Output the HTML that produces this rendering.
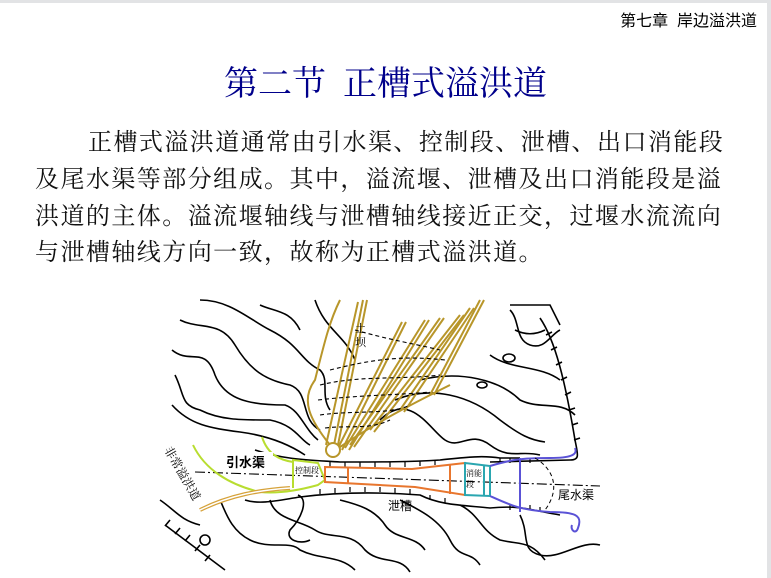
<!DOCTYPE html>
<html><head><meta charset="utf-8"><style>
body{margin:0;width:771px;height:578px;overflow:hidden;background:#fff;position:relative;font-family:"Liberation Serif","Noto Serif CJK SC",serif;}
.top{position:absolute;left:0;top:0;width:771px;height:3px;background:#e2e3e5}
.rb{position:absolute;right:0;top:0;width:4px;height:578px;background:#e2e3e5}
.hdr{position:absolute;right:14px;top:7px;font-size:16px;font-family:"Liberation Sans","Noto Sans CJK SC",sans-serif;color:#000}
.ttl{position:absolute;left:0;width:771px;top:56px;text-align:center;font-size:34px;color:#00008b;}
.p{position:absolute;left:35px;font-size:24px;letter-spacing:1.45px;white-space:nowrap;color:#111;line-height:30px}
svg{position:absolute;left:0;top:0}
</style></head><body>
<div class="top"></div><div class="rb"></div>
<div class="hdr">第七章&nbsp; 岸边溢洪道</div>
<div class="ttl">第二节&nbsp; 正槽式溢洪道</div>
<div class="p" style="left:88px;top:128px">正槽式溢洪道通常由引水渠、控制段、泄槽、出口消能段</div>
<div class="p" style="top:165px">及尾水渠等部分组成。其中，溢流堰、泄槽及出口消能段是溢</div>
<div class="p" style="top:202px">洪道的主体。溢流堰轴线与泄槽轴线接近正交，过堰水流流向</div>
<div class="p" style="top:238px">与泄槽轴线方向一致，故称为正槽式溢洪道。</div>
<svg width="771" height="578" viewBox="0 0 771 578" fill="none" stroke="#000" stroke-width="1.6">
<path d="M200 300 C230 300 250 320 270 330 C300 345 300 360 320 370 C330 380 320 395 330 410"/>
<path d="M180 320 C200 330 220 320 235 345 C250 370 265 380 290 385 C310 392 300 420 320 430"/>
<path d="M172 350 C190 365 205 345 215 375 C225 400 250 405 285 405 C300 410 305 430 318 440"/>
<path d="M175 375 C185 395 180 405 200 410 C220 420 240 420 270 420 C295 425 300 440 310 445"/>
<path d="M172 405 C190 425 210 428 240 432 C270 436 290 445 305 455"/>
<path d="M260 305 C275 312 290 310 300 330"/>
<path d="M315 300 C325 330 345 335 355 360"/>
<path d="M380 420 C410 390 430 430 445 440 C460 450 470 430 490 445 C510 460 520 450 540 455"/>
<path d="M395 400 C430 385 470 395 500 420 C520 435 530 440 545 442"/>
<path d="M420 380 C460 370 500 380 520 400 C540 410 560 400 575 415"/>
<path d="M490 355 C510 370 540 365 560 380"/>
<path d="M510 310 C520 320 515 340 530 345 C545 350 550 335 560 330"/>
<path d="M515 330 C525 335 535 335 545 330"/>
<ellipse cx="509" cy="358" rx="6" ry="4"/>
<ellipse cx="482" cy="385" rx="5" ry="3"/>
<path d="M510 305 L550 305 L560 325"/>
<path d="M540 318 C555 340 565 380 575 440 C578 455 580 460 570 460 L490 462"/>
<path d="M546 335 l6 -3 M551 350 l6 -3 M556 365 l6 -3 M561 380 l6 -3 M565 395 l6 -3 M569 410 l6 -2 M572 425 l6 -2 M574 440 l6 -2" />
<path d="M255 450 C285 460 310 460 340 462 C380 462 410 462 440 460 C460 458 480 455 500 458 L520 458"/>
<path d="M245 500 C260 505 280 500 300 497 C340 492 380 492 420 495 C440 505 460 505 490 508 C520 505 530 510 560 515"/>
<path d="M220 500 C225 510 230 530 250 540 C270 550 290 540 300 550 C320 560 340 555 355 570"/>
<path d="M270 500 C275 520 300 520 315 530 C330 540 350 530 365 550 C380 565 400 555 410 572"/>
<path d="M340 500 C360 505 375 510 385 525 C395 540 415 535 425 550"/>
<path d="M400 500 C420 510 440 520 450 540 C460 560 470 550 480 565"/>
<path d="M460 505 C480 515 480 530 500 540 C520 545 530 540 545 560"/>
<path d="M520 515 C530 535 520 550 540 555 C560 560 580 540 600 545"/>
<path d="M298 495 C310 500 300 520 290 530 C285 540 300 545 310 540"/>
<path d="M165 525 L225 570 M160 500 C175 510 180 520 200 525"/>
<path d="M170 520 l-5 6 M180 528 l-5 6 M190 535 l-5 6 M200 545 l-5 6 M210 555 l-5 6"/>
<circle cx="205" cy="540" r="5"/>
<g stroke-width="1.2">
<path d="M330 462 v5 M345 462 v5 M360 462 v5 M375 462 v5 M390 462 v5 M405 462 v5 M420 461 v5 M435 460 v5 M500 458 v5 M510 458 v5 M520 458 v5 M530 458 v5"/>
<path d="M320 494 v-5 M335 493 v-5 M350 492 v-5 M365 492 v-5 M380 492 v-5 M395 493 v-5 M410 494 v-5 M430 500 v-5 M445 503 v-5 M510 510 v-5 M520 510 v-5 M530 510 v-5 M540 512 v-5"/>
</g>
<path d="M195 472 L600 486" stroke-width="1.1" stroke-dasharray="10 3 2 3"/>
<path d="M193 445 C205 470 230 485 260 492 C280 494 300 490 318 485 L325 480 L318 463 L293 460 L293 488" stroke="#b8dd30" stroke-width="2"/>
<path d="M262 437 C268 455 280 460 293 462" stroke="#b8dd30" stroke-width="2"/>
<path d="M200 510 C230 495 260 490 290 488" stroke="#d6a23a" stroke-width="4"/>
<path d="M200 510 C230 495 260 490 290 488" stroke="#fff" stroke-width="1.5"/>
<g stroke="#e8762e" stroke-width="2">
<path d="M325 467 L412 469 L465 463 L465 495 L415 487 L325 482 Z"/>
<path d="M348 468 V483 M450 465 V494"/>
</g>
<path d="M465 463 L490 466 L490 496 L465 495 Z M484 466 V496" stroke="#2aa6b0" stroke-width="2"/>
<g stroke="#5a52d6" stroke-width="2">
<path d="M490 466 C510 460 520 458 550 458 C570 458 578 455 575 448"/>
<path d="M490 496 C510 505 520 510 550 512 C575 512 583 515 578 528 C576 535 570 530 572 525"/>
<path d="M520 458 V512"/>
</g>
<path d="M535 458 C555 470 560 490 545 510" stroke-dasharray="4 3" stroke-width="1"/>
<g stroke="#b8962a" stroke-width="2">
<path d="M333 450 L363 300 M337 450 L367 300"/>
<path d="M326 445 L358 302"/>
<path d="M338 448 L402 322 M342 450 L406 322"/>
<path d="M345 448 L425 320 M349 450 L429 320"/>
<path d="M350 445 L440 318 M354 447 L444 318"/>
<path d="M370 430 L460 315 M374 432 L464 315"/>
<path d="M400 410 L470 308 M404 412 L474 308"/>
<path d="M430 395 L480 300 M434 395 L484 300"/>
<path d="M330 445 C310 420 300 400 315 380 C325 340 330 320 340 300"/>
<path d="M340 447 C380 420 420 400 450 385"/>
<circle cx="333" cy="450" r="7" stroke="#b8962a" fill="#fff"/>
</g>
<g stroke-dasharray="4 3" stroke-width="1.1">
<path d="M320 385 C360 375 400 380 440 375"/><path d="M318 400 C360 395 400 395 430 392"/>
<path d="M320 415 C355 410 390 415 410 405"/><path d="M325 428 C350 425 370 430 390 420"/>
<path d="M330 370 C370 360 400 355 445 360"/><path d="M355 330 C390 340 420 345 440 350"/>
</g>
</svg>
<div style="position:absolute;left:218px;top:452px;background:#fff;padding:0 8px;font:bold 13px 'Liberation Sans','Noto Sans CJK SC',sans-serif">引水渠</div>
<div style="position:absolute;left:295px;top:465px;font-size:8px">控制段</div>
<div style="position:absolute;left:466px;top:468px;font-size:8px;line-height:11px">消能<br>段</div>
<div style="position:absolute;left:558px;top:486px;font-size:12px;font-family:'Liberation Sans','Noto Sans CJK SC',sans-serif">尾水渠</div>
<div style="position:absolute;left:388px;top:497px;font-size:12px;font-family:'Liberation Sans','Noto Sans CJK SC',sans-serif">泄槽</div>
<div style="position:absolute;left:355px;top:322px;font-size:11px;line-height:14px">土<br>坝</div>
<div style="position:absolute;top:443px;font-size:12px;transform:rotate(60deg);transform-origin:0 0;left:175px;white-space:nowrap">非常溢洪道</div>
</body></html>
